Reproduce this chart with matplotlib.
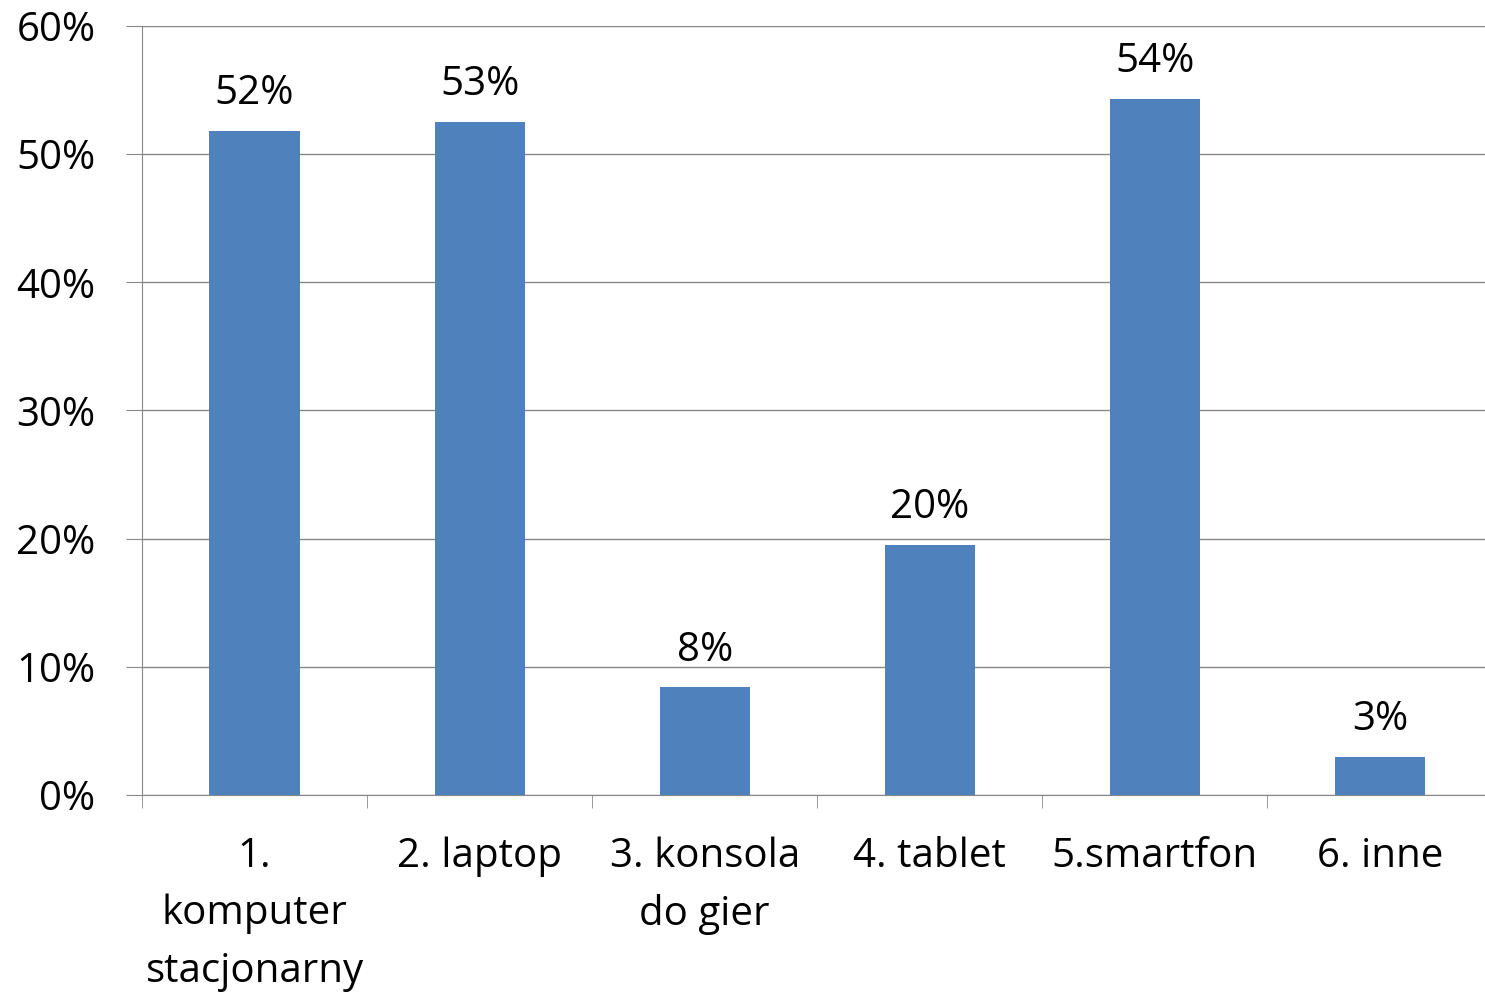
import numpy as np
import matplotlib.pyplot as plt
from matplotlib.ticker import FixedLocator

categories = ["1.\nkomputer\nstacjonarny", "2. laptop", "3. konsola\ndo gier",
              "4. tablet", "5.smartfon", "6. inne"]
values = [51.8, 52.5, 8.4, 19.5, 54.3, 3.0]
labels = ["52%", "53%", "8%", "20%", "54%", "3%"]
yticks = [0, 10, 20, 30, 40, 50, 60]

plt.rcParams['font.family'] = ['Open Sans', 'DejaVu Sans']
FS = 29

fig = plt.figure(figsize=(14.85, 9.97), dpi=100)
ax = fig.add_axes([0.0956, 0.2026, 0.9095, 0.7714])

x = np.arange(len(categories))
ax.bar(x, values, width=0.4, color="#4f81bd", zorder=3)
for xi, v, lab in zip(x, values, labels):
    ax.text(xi, v + 1.3, lab, ha="center", va="bottom", fontsize=FS)

ax.set_xlim(-0.5, len(categories) - 0.5)
ax.set_ylim(0, 60)
ax.set_yticks(yticks)
ax.set_yticklabels([f"{t}%" for t in yticks], fontsize=FS)
ax.yaxis.grid(True, color="#888888", linewidth=1.0, zorder=0)

ax.set_xticks(x)
ax.set_xticklabels(categories, fontsize=FS, linespacing=1.55)
ax.xaxis.set_minor_locator(FixedLocator(np.arange(-0.5, len(categories), 1.0)))
ax.tick_params(axis="x", which="major", length=0, pad=30)
ax.tick_params(axis="x", which="minor", length=9, color="#888888", direction="out")
ax.tick_params(axis="y", length=11.5, color="#888888", pad=22)

for s in ["top", "right"]:
    ax.spines[s].set_visible(False)
ax.spines["left"].set_color("#888888")
ax.spines["bottom"].set_color("#888888")

fig.savefig("out.png", dpi=100)
